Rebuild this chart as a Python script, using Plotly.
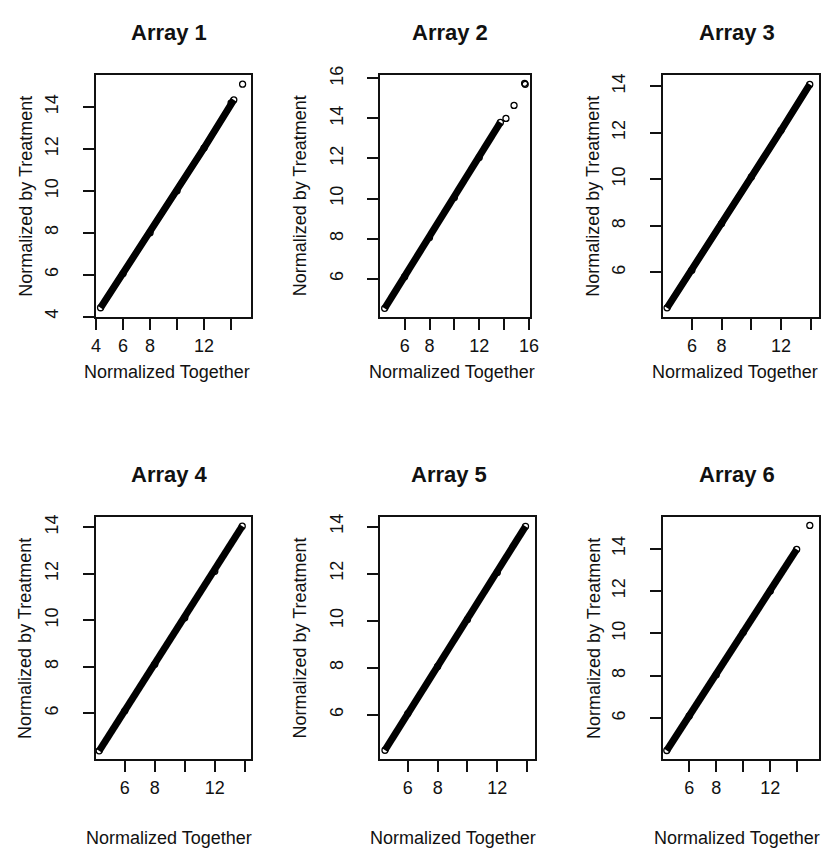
import plotly.graph_objects as go

# Six arrays: expression normalized together (x) vs. normalized by treatment (y)
array_titles = ["Array 1", "Array 2", "Array 3", "Array 4", "Array 5", "Array 6"]

# Dense band of spots running along the diagonal (ends and a few points along it)
band_together = [
    [4.33, 6.0, 8.0, 10.0, 12.0, 14.2],
    [4.39, 6.0, 8.0, 10.0, 12.0, 13.7],
    [4.33, 6.0, 8.0, 10.0, 12.0, 13.93],
    [4.29, 6.0, 8.0, 10.0, 12.0, 13.83],
    [4.47, 6.0, 8.0, 10.0, 12.0, 13.89],
    [4.34, 6.0, 8.0, 10.0, 12.0, 13.95],
]
band_treatment = [
    [4.42, 6.05, 8.0, 10.0, 12.05, 14.34],
    [4.52, 6.1, 8.05, 10.05, 12.05, 13.8],
    [4.48, 6.1, 8.1, 10.1, 12.1, 14.07],
    [4.38, 6.1, 8.1, 10.1, 12.1, 14.04],
    [4.49, 6.05, 8.05, 10.05, 12.05, 14.01],
    [4.47, 6.1, 8.05, 10.05, 12.0, 13.97],
]

# Isolated spots beyond the main band
sparse_together = [
    [14.0, 14.85],
    [14.15, 14.8, 15.65, 15.7],
    [],
    [],
    [],
    [14.92],
]
sparse_treatment = [
    [14.2, 15.09],
    [14.0, 14.65, 15.75, 15.7],
    [],
    [],
    [],
    [15.1],
]

# Axis limits
x_limits = [[3.96, 15.48], [4.02, 16.06], [4.03, 14.56], [4.05, 14.42], [4.14, 14.5], [4.03, 15.61]]
y_limits = [[3.98, 15.52], [4.09, 16.16], [4.09, 14.47], [4.02, 14.42], [4.11, 14.39], [4.06, 15.48]]

# Tick marks and their labels (some labels are left blank where they would crowd)
x_tick_vals = [
    [4, 6, 8, 10, 12, 14],
    [6, 8, 10, 12, 14, 16],
    [6, 8, 10, 12, 14],
    [6, 8, 10, 12, 14],
    [6, 8, 10, 12, 14],
    [6, 8, 10, 12, 14],
]
x_tick_text = [
    ["4", "6", "8", "", "12", ""],
    ["6", "8", "", "12", "", "16"],
    ["6", "8", "", "12", ""],
    ["6", "8", "", "12", ""],
    ["6", "8", "", "12", ""],
    ["6", "8", "", "12", ""],
]
y_tick_vals = [
    [4, 6, 8, 10, 12, 14],
    [6, 8, 10, 12, 14, 16],
    [6, 8, 10, 12, 14],
    [6, 8, 10, 12, 14],
    [6, 8, 10, 12, 14],
    [6, 8, 10, 12, 14],
]
y_tick_text = [[str(v) for v in vals] for vals in y_tick_vals]

x_label = "Normalized Together"
y_label = "Normalized by Treatment"

# ---- layout geometry (pixels) ----
W, H = 836, 850
FONT = "Liberation Sans, Arial, sans-serif"
INK = "#111111"

# plot boxes: (left, right, top, bottom)
boxes = [
    (93, 251, 67, 312),
    (382, 534, 67, 312),
    (669, 828, 67, 312),
    (93, 251, 515, 760),
    (382, 539, 515, 760),
    (669, 828, 515, 760),
]
title_x = [168, 453, 745, 168, 452, 745]
xlab_pos = [(166, 368), (455, 368), (743, 368), (168, 840), (456, 840), (745, 840)]
ylab_x = [22, 301, 598, 22, 301, 600]

fig = go.Figure()
layout = dict(
    width=W, height=H, autosize=False,
    margin=dict(l=0, r=0, t=0, b=0),
    paper_bgcolor="white", plot_bgcolor="white",
    showlegend=False,
    font=dict(family=FONT, color=INK),
    annotations=[],
)

for i in range(6):
    n = "" if i == 0 else str(i + 1)
    xa, ya = "x" + n, "y" + n
    left, right, top, bottom = boxes[i]

    fig.add_trace(go.Scatter(
        x=band_together[i], y=band_treatment[i], xaxis=xa, yaxis=ya,
        mode="lines+markers",
        line=dict(color="black", width=7),
        marker=dict(symbol="circle-open", size=6, color="black", line=dict(width=1.3)),
        hoverinfo="skip",
    ))
    if sparse_together[i]:
        fig.add_trace(go.Scatter(
            x=sparse_together[i], y=sparse_treatment[i], xaxis=xa, yaxis=ya,
            mode="markers",
            marker=dict(symbol="circle-open", size=6, color="black", line=dict(width=1.3)),
            hoverinfo="skip",
        ))

    common = dict(
        showgrid=False, zeroline=False,
        showline=True, mirror=True, linecolor=INK, linewidth=2,
        ticks="outside", ticklen=11, tickwidth=1.5, tickcolor=INK,
        tickfont=dict(family=FONT, size=18, color=INK),
        tickmode="array", fixedrange=True,
    )
    layout["xaxis" + n] = dict(
        common,
        domain=[left / W, right / W],
        range=x_limits[i],
        tickvals=x_tick_vals[i], ticktext=x_tick_text[i],
        anchor=ya, ticklabelstandoff=0,
    )
    layout["yaxis" + n] = dict(
        common,
        domain=[1 - bottom / H, 1 - top / H],
        range=y_limits[i],
        tickvals=y_tick_vals[i], ticktext=y_tick_text[i],
        tickangle=-90, anchor=xa, ticklabelstandoff=17,
    )

    layout["annotations"].append(dict(
        text=array_titles[i], xref="paper", yref="paper",
        x=title_x[i] / W, y=1 - (top - 43) / H,
        xanchor="center", yanchor="middle", showarrow=False,
        font=dict(family=FONT, size=22, color=INK, weight="bold"),
    ))
    layout["annotations"].append(dict(
        text=x_label, xref="paper", yref="paper",
        x=xlab_pos[i][0] / W, y=1 - xlab_pos[i][1] / H,
        xanchor="center", yanchor="middle", showarrow=False,
        font=dict(family=FONT, size=18, color=INK),
    ))
    layout["annotations"].append(dict(
        text=y_label, xref="paper", yref="paper",
        x=ylab_x[i] / W, y=1 - ((top + bottom) / 2) / H,
        xanchor="center", yanchor="middle", showarrow=False, textangle=-90,
        font=dict(family=FONT, size=18, color=INK),
    ))

fig.update_layout(**layout)
fig.write_html("out.html")
